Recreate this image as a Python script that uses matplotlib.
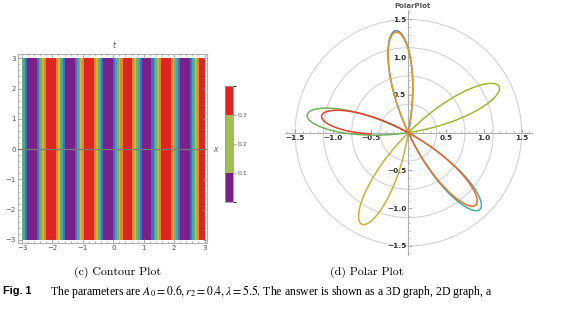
import numpy as np
import matplotlib
matplotlib.use("Agg")
import matplotlib.pyplot as plt
from matplotlib.colors import ListedColormap, BoundaryNorm
from matplotlib.patches import Circle
from matplotlib.ticker import MultipleLocator, FixedLocator
import matplotlib.colorbar as mcolorbar

plt.rcParams['mathtext.fontset'] = 'stix'

# ---------------- data: contour stripes ----------------
band_colors = ['#7a2189', '#3f6fbf', '#4aa3b0', '#72b460', '#c9b53c', '#e2862f', '#df2424']
band_widths = [0.318, 0.070, 0.058, 0.056, 0.058, 0.069, 0.318]   # purple ... red
first_purple_center = -2.68
x_range = [-3.0, 3.0]
t_range = [-3.0, 3.0]

cbar_bounds = [0.0, 0.1, 0.3, 0.4]
cbar_colors = ['#7a2189', '#a3bd55', '#df2424']
cbar_ticks = [0.1, 0.2, 0.3]
contour_ticks = [-3, -2, -1, 0, 1, 2, 3]

# ---------------- data: polar petals ----------------
petal_angle_deg = [97, 97, 27, 170, 169, 243, 313, 313]
petal_tip_r = [1.36, 1.34, 1.35, 1.36, 1.17, 1.36, 1.39, 1.31]
petal_start_deg = [-18, -18, -18, -18, -18, -18, -18, -18]
petal_end_deg = [18, 18, 18, 18, 13, 18, 18, 18]
petal_colors = ['#5E81B5', '#E19C24', '#a3b534', '#6fb25c', '#e5402f', '#c9b13a', '#45aaa2', '#ee6a2c']
circle_radii = [0.375, 0.75, 1.125, 1.5]
polar_ticks = [-1.5, -1.0, -0.5, 0.5, 1.0, 1.5]

W, H = 585, 311
fig = plt.figure(figsize=(W / 100, H / 100), dpi=100)

def fx(p):
    return p / W

def fy(p):
    return 1 - p / H

# ---------------- contour panel ----------------
ax1 = fig.add_axes([fx(18), fy(243), 189 / W, 189 / H])
half_seq_idx = [0, 1, 2, 3, 4, 5, 6, 5, 4, 3, 2, 1]
period = band_widths[0] + band_widths[6] + 2 * sum(band_widths[1:6])
edges = []
idxs = []
pos = first_purple_center - period - band_widths[0] / 2
while pos < x_range[1]:
    for i in half_seq_idx:
        w = band_widths[i]
        edges.append((pos, pos + w))
        idxs.append(i)
        pos += w
xe = [x_range[0]]
cidx = []
for (a, b), i in zip(edges, idxs):
    if b <= x_range[0] or a >= x_range[1]:
        continue
    xe.append(min(b, x_range[1]))
    cidx.append(i)
ax1.pcolormesh(np.array(xe), np.array(t_range), np.array([cidx]),
               cmap=ListedColormap(band_colors), vmin=-0.5, vmax=6.5, shading='flat', zorder=1)
ax1.axhline(0, color='#7a7a7a', lw=0.9, zorder=3)
ax1.set_xlim(-3.13, 3.08)
ax1.set_ylim(-3.1, 3.14)
ax1.set_xticks(contour_ticks)
ax1.set_yticks(contour_ticks)
ax1.set_xticklabels([str(v).replace('-', '\u2212') for v in contour_ticks])
ax1.set_yticklabels([str(v).replace('-', '\u2212') for v in contour_ticks])
ax1.xaxis.set_minor_locator(MultipleLocator(0.2))
ax1.yaxis.set_minor_locator(MultipleLocator(0.2))
ax1.tick_params(which='both', direction='in', top=True, right=True, color='#a0a0a0',
                labelsize=5, labelcolor='#555555', pad=1.5)
ax1.tick_params(which='major', length=3, width=0.6)
ax1.tick_params(which='minor', length=1.6, width=0.5)
for s in ax1.spines.values():
    s.set_color('#b0b0b0')
    s.set_linewidth(0.8)
fig.text(fx(114), fy(46), 't', fontsize=5.5, style='italic', color='#555555', ha='center', va='center')
fig.text(fx(215), fy(149), 'x', fontsize=5.5, style='italic', color='#555555', ha='center', va='center')

# colorbar
cax = fig.add_axes([fx(225), fy(202), 8 / W, 116 / H])
cb = mcolorbar.ColorbarBase(cax, cmap=ListedColormap(cbar_colors),
                            norm=BoundaryNorm(cbar_bounds, len(cbar_colors)),
                            boundaries=cbar_bounds, spacing='proportional',
                            ticks=cbar_ticks, orientation='vertical')
cb.outline.set_edgecolor('#999999')
cb.outline.set_linewidth(0.6)
cax.tick_params(labelsize=4.5, labelcolor='#555555', color='#999999', length=2, width=0.5, pad=1)

# ---------------- polar panel ----------------
ax2 = fig.add_axes([fx(285), fy(255), 247 / W, 245 / H])
ax2.set_xlim(-1.633, 1.638)
ax2.set_ylim(-1.62, 1.625)
for r in circle_radii:
    ax2.add_patch(Circle((0, 0), r, fill=False, edgecolor='#d2d2d2', lw=0.8, zorder=1))
for a0, R, s, e, c in zip(petal_angle_deg, petal_tip_r, petal_start_deg, petal_end_deg, petal_colors):
    d = np.radians(np.linspace(s, e, 300))
    th = np.radians(a0) + d
    r = R * np.cos(5 * d)
    ax2.plot(r * np.cos(th), r * np.sin(th), color=c, lw=1.1, zorder=3)
for side in ['top', 'right']:
    ax2.spines[side].set_visible(False)
for side in ['left', 'bottom']:
    ax2.spines[side].set_position('zero')
    ax2.spines[side].set_color('#b0b0b0')
    ax2.spines[side].set_linewidth(0.8)
ax2.xaxis.set_major_locator(FixedLocator(polar_ticks))
ax2.yaxis.set_major_locator(FixedLocator(polar_ticks))
ax2.set_xticklabels([('%.1f' % v).replace('-', '\u2212') for v in polar_ticks])
ax2.set_yticklabels([('%.1f' % v).replace('-', '\u2212') for v in polar_ticks])
ax2.xaxis.set_minor_locator(MultipleLocator(0.1))
ax2.yaxis.set_minor_locator(MultipleLocator(0.1))
ax2.tick_params(which='both', direction='in', color='#a0a0a0', labelsize=5.3,
                labelcolor='#333333', pad=1.5)
ax2.tick_params(which='major', length=3, width=0.6)
ax2.tick_params(which='minor', length=1.5, width=0.5)
for lab in ax2.get_xticklabels() + ax2.get_yticklabels():
    lab.set_fontweight('bold')
ax2.set_facecolor('none')
fig.text(fx(413), fy(6), 'PolarPlot', fontsize=5, color='#555555', fontweight='bold',
         ha='center', va='center')

# ---------------- captions ----------------
fig.text(fx(117), fy(272), '(c) Contour Plot', family='cmr10', fontsize=8.5, ha='center', va='center')
fig.text(fx(367), fy(272), '(d) Polar Plot', family='cmr10', fontsize=8.5, ha='center', va='center')
fig.text(fx(3), fy(291), 'Fig. 1', family='Liberation Sans', fontweight='bold', fontsize=7.8,
         ha='left', va='center')
fig.text(fx(50), fy(291), r'The parameters are $A_0 = 0.6, r_2 = 0.4, \lambda = 5.5$. '
         'The answer is shown as a 3D graph, 2D graph, a',
         family='Liberation Serif', fontsize=8.5, ha='left', va='center')

fig.savefig('out.png', dpi=100)
